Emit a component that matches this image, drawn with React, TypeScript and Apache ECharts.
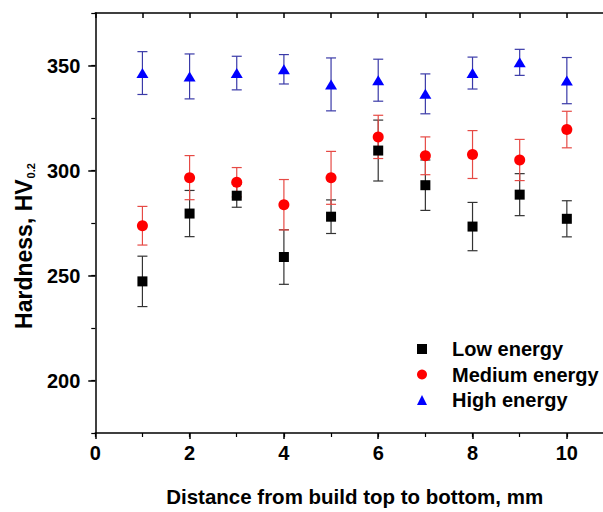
import React, { useEffect, useRef } from "react";
import * as echarts from "echarts";

const positions = [1, 2, 3, 4, 5, 6, 7, 8, 9, 10];
const lowMean = [247.2, 279.5, 288, 258.8, 278, 309.5, 293, 273.3, 288.5, 277];
const lowErr = [12, 11, 5.5, 13, 8, 14.5, 12, 11.5, 10, 8.6];
const mediumMean = [273.7, 296.6, 294.4, 283.7, 296.5, 316, 307, 307.6, 305, 319.5];
const mediumErr = [9.2, 10.5, 7, 12, 12.6, 10.3, 9, 11.4, 9.8, 8.7];
const highMean = [346.4, 344.8, 346.4, 348.2, 341, 343, 336.5, 346.4, 351.5, 342.8];
const highErr = [10.2, 10.7, 8, 7, 12.6, 10, 9.5, 7.6, 6.2, 11];
const yMajorTicks = [200, 250, 300, 350];
const seriesNames = ["Low energy", "Medium energy", "High energy"];

const FONT = "'Liberation Sans', Arial, Helvetica, sans-serif";

export default function App() {
  const ref = useRef<HTMLDivElement>(null);
  useEffect(() => {
    if (!ref.current) return;
    const chart = echarts.init(ref.current, undefined, { renderer: "svg" });

    const groups = [
      { name: seriesNames[0], mean: lowMean, err: lowErr, color: "#000000", barColor: "#333333", symbol: "rect", size: 10 },
      { name: seriesNames[1], mean: mediumMean, err: mediumErr, color: "#ff0000", barColor: "#e64a45", symbol: "circle", size: 11 },
      { name: seriesNames[2], mean: highMean, err: highErr, color: "#0000ff", barColor: "#3a3aa8", symbol: "triangle", size: [12, 10] },
    ];

    const errSeries = groups.map((g) => ({
      type: "custom",
      name: g.name + " error",
      xAxisIndex: 0,
      yAxisIndex: 0,
      encode: { x: 0, y: [1, 2] },
      data: positions.map((x, i) => [x, g.mean[i] - g.err[i], g.mean[i] + g.err[i]]),
      z: 2,
      renderItem: (params: any, api: any) => {
        const x = api.value(0);
        const pLo = api.coord([x, api.value(1)]);
        const pHi = api.coord([x, api.value(2)]);
        const w = 5;
        const style = { stroke: g.barColor, lineWidth: 1.2 };
        return {
          type: "group",
          children: [
            { type: "line", shape: { x1: pHi[0], y1: pHi[1], x2: pLo[0], y2: pLo[1] }, style },
            { type: "line", shape: { x1: pHi[0] - w, y1: pHi[1], x2: pHi[0] + w, y2: pHi[1] }, style },
            { type: "line", shape: { x1: pLo[0] - w, y1: pLo[1], x2: pLo[0] + w, y2: pLo[1] }, style },
          ],
        };
      },
    }));

    const pointSeries = groups.map((g) => ({
      type: "scatter",
      name: g.name,
      xAxisIndex: 0,
      yAxisIndex: 0,
      symbol: g.symbol,
      symbolSize: g.size,
      itemStyle: { color: g.color, opacity: 1 },
      data: positions.map((x, i) => [x, g.mean[i]]),
      z: 3,
    }));

    const axisLine = { show: true, lineStyle: { color: "#000", width: 1.5 } };

    chart.setOption({
      animation: false,
      backgroundColor: "#ffffff",
      grid: { left: 95, top: 13, width: 519, height: 426 },
      legend: {
        left: 417,
        top: 339,
        orient: "vertical",
        padding: 0,
        itemWidth: 10,
        itemHeight: 10,
        itemGap: 5.5,
        symbolKeepAspect: true,
        textStyle: { fontSize: 20, fontWeight: "bold", fontFamily: FONT, color: "#000", lineHeight: 20, padding: [0, 0, 0, 20] },
        data: [
          { name: seriesNames[0], icon: "rect" },
          { name: seriesNames[1], icon: "circle" },
          { name: seriesNames[2], icon: "triangle" },
        ],
      },
      xAxis: [
        {
          type: "value",
          position: "bottom",
          min: 0,
          max: 11,
          interval: 2,
          axisLine,
          axisTick: { show: true, length: 6, inside: false, lineStyle: { color: "#000", width: 1.5 } },
          axisLabel: { show: true, fontSize: 20, fontWeight: "bold", fontFamily: FONT, color: "#000", margin: 10, showMaxLabel: false },
          splitLine: { show: false },
          name: "Distance from build top to bottom, mm",
          nameLocation: "middle",
          nameGap: 53,
          nameTextStyle: { fontSize: 20.5, fontWeight: "bold", fontFamily: FONT, color: "#000" },
        },
        {
          type: "value",
          position: "bottom",
          min: 0,
          max: 11,
          interval: 1,
          axisLine: { show: false },
          axisTick: { show: true, length: 4, lineStyle: { color: "#000", width: 1.2 } },
          axisLabel: { show: false },
          splitLine: { show: false },
        },
        {
          type: "value",
          position: "top",
          min: 0,
          max: 11,
          interval: 1,
          axisLine,
          axisTick: { show: true, length: 5, inside: true, lineStyle: { color: "#000", width: 1.5 } },
          axisLabel: { show: false },
          splitLine: { show: false },
        },
      ],
      yAxis: [
        {
          type: "value",
          position: "left",
          min: 175,
          max: 375,
          interval: 25,
          axisLine,
          axisTick: { show: true, length: 7, customValues: yMajorTicks, lineStyle: { color: "#000", width: 1.5 } },
          axisLabel: { show: true, customValues: yMajorTicks, fontSize: 20, fontWeight: "bold", fontFamily: FONT, color: "#000", margin: 15 },
          splitLine: { show: false },
          name: "{a|Hardness, HV}{b|0.2}",
          nameLocation: "middle",
          nameGap: 58,
          nameTextStyle: {
            color: "#000",
            padding: [0, 46, 0, 0],
            rich: {
              a: { fontSize: 23, fontWeight: "bold", fontFamily: FONT, color: "#000", lineHeight: 24, verticalAlign: "top" },
              b: { fontSize: 11, fontWeight: "bold", fontFamily: FONT, color: "#000", lineHeight: 11, verticalAlign: "bottom", padding: [17, 0, 0, 1] },
            },
          },
        },
        {
          type: "value",
          position: "left",
          min: 175,
          max: 375,
          interval: 25,
          axisLine: { show: false },
          axisTick: { show: true, length: 4, lineStyle: { color: "#000", width: 1.2 } },
          axisLabel: { show: false },
          splitLine: { show: false },
        },
      ],
      series: [...errSeries, ...pointSeries],
    });
    return () => chart.dispose();
  }, []);

  return (
    <div style={{ position: "fixed", left: 0, top: 0, width: 603, height: 512, overflow: "hidden", background: "#fff" }}>
      <div ref={ref} style={{ width: 640, height: 512 }} />
    </div>
  );
}
